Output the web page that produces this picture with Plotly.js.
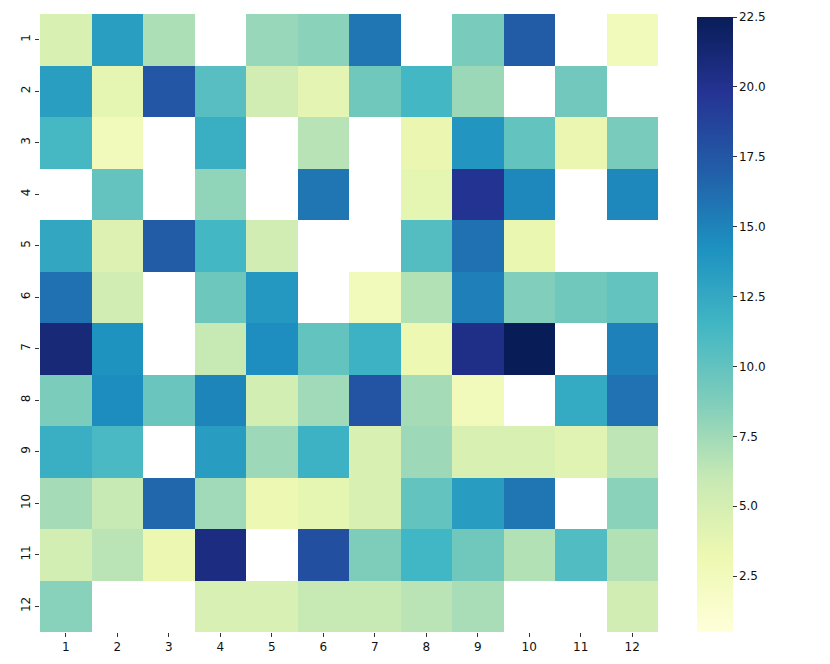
<!DOCTYPE html>
<html>
<head>
<meta charset="utf-8">
<script src="https://cdn.plot.ly/plotly-3.0.1.min.js"></script>
<style>
html,body{margin:0;padding:0;background:#fff;}
#graph{width:830px;height:664px;}
</style>
</head>
<body>
<div id="graph"></div>
<script>
let cols = [1,2,3,4,5,6,7,8,9,10,11,12];
let rows = [1,2,3,4,5,6,7,8,9,10,11,12];

// null = empty cell
let r1  = [4.7, 13.3, 7.0, null, 7.8, 8.3, 15.7, null, 9.0, 17.1, null, 2.6];
let r2  = [13.3, 3.8, 17.5, 10.5, 5.3, 3.9, 9.4, 11.4, 7.7, null, 9.3, null];
let r3  = [11.3, 2.6, null, 12.0, null, 6.6, null, 3.4, 13.9, 10.0, 3.4, 9.0];
let r4  = [null, 9.9, null, 8.1, null, 15.7, null, 3.8, 19.9, 14.8, null, 14.8];
let r5  = [12.6, 4.5, 17.1, 11.4, 5.3, null, null, 10.7, 16.0, 3.5, null, null];
let r6  = [16.0, 5.3, null, 9.5, 13.7, null, 2.6, 6.8, 15.2, 8.7, 9.4, 10.0];
let r7  = [21.1, 14.1, null, 6.0, 14.4, 10.0, 11.8, 3.2, 20.3, 22.5, null, 15.1];
let r8  = [8.9, 14.5, 9.7, 14.9, 5.1, 7.5, 17.7, 7.3, 2.6, null, 12.4, 15.9];
let r9  = [12.0, 11.1, null, 13.4, 7.6, 11.8, 4.7, 7.6, 4.7, 4.7, 4.1, 6.4];
let r10 = [7.3, 6.0, 16.5, 7.5, 3.2, 3.8, 4.7, 10.0, 13.4, 15.7, null, 8.3];
let r11 = [5.1, 6.5, 3.3, 20.6, null, 18.0, 8.8, 11.5, 9.4, 6.8, 10.8, 6.8];
let r12 = [8.4, null, null, 4.8, 4.8, 6.0, 6.0, 6.5, 7.2, null, null, 5.2];

let cbTicks = [2.5,5,7.5,10,12.5,15,17.5,20,22.5];

let ylgnbu = [
  [0,'#ffffd9'],[0.125,'#edf8b1'],[0.25,'#c7e9b4'],[0.375,'#7fcdbb'],
  [0.5,'#41b6c4'],[0.625,'#1d91c0'],[0.75,'#225ea8'],[0.875,'#253494'],[1,'#081d58']
];

Plotly.newPlot('graph',[
{
type:'heatmap',
x:cols,
y:rows,
z:[r1,r2,r3,r4,r5,r6,r7,r8,r9,r10,r11,r12],
zmin:0.5,
zmax:22.5,
colorscale:ylgnbu,
hoverongaps:false,
colorbar:{
  thickness:36,
  thicknessmode:'pixels',
  len:615,
  lenmode:'pixels',
  x:1.063,
  xanchor:'left',
  y:0,
  yanchor:'bottom',
  ypad:0,
  xpad:0,
  outlinewidth:0,
  tickvals:cbTicks,
  ticktext:cbTicks.map(v=>v.toFixed(1)),
  ticks:'outside',
  ticklen:4,
  tickcolor:'#333',
  tickfont:{size:12,color:'#111'}
}
}
],
{
width:830,
height:664,
margin:{l:40,r:172,t:14,b:32},
paper_bgcolor:'#fff',
plot_bgcolor:'#fff',
font:{family:'DejaVu Sans',size:12,color:'#111'},
xaxis:{
  tickvals:cols,
  ticks:'outside',
  ticklen:4,
  tickcolor:'#333',
  showgrid:false,
  zeroline:false,
  showline:false
},
yaxis:{
  tickvals:rows,
  autorange:'reversed',
  tickangle:-90,
  ticks:'outside',
  ticklen:4,
  tickcolor:'#333',
  showgrid:false,
  zeroline:false,
  showline:false
}
},
{displayModeBar:false}
);
</script>
</body>
</html>
